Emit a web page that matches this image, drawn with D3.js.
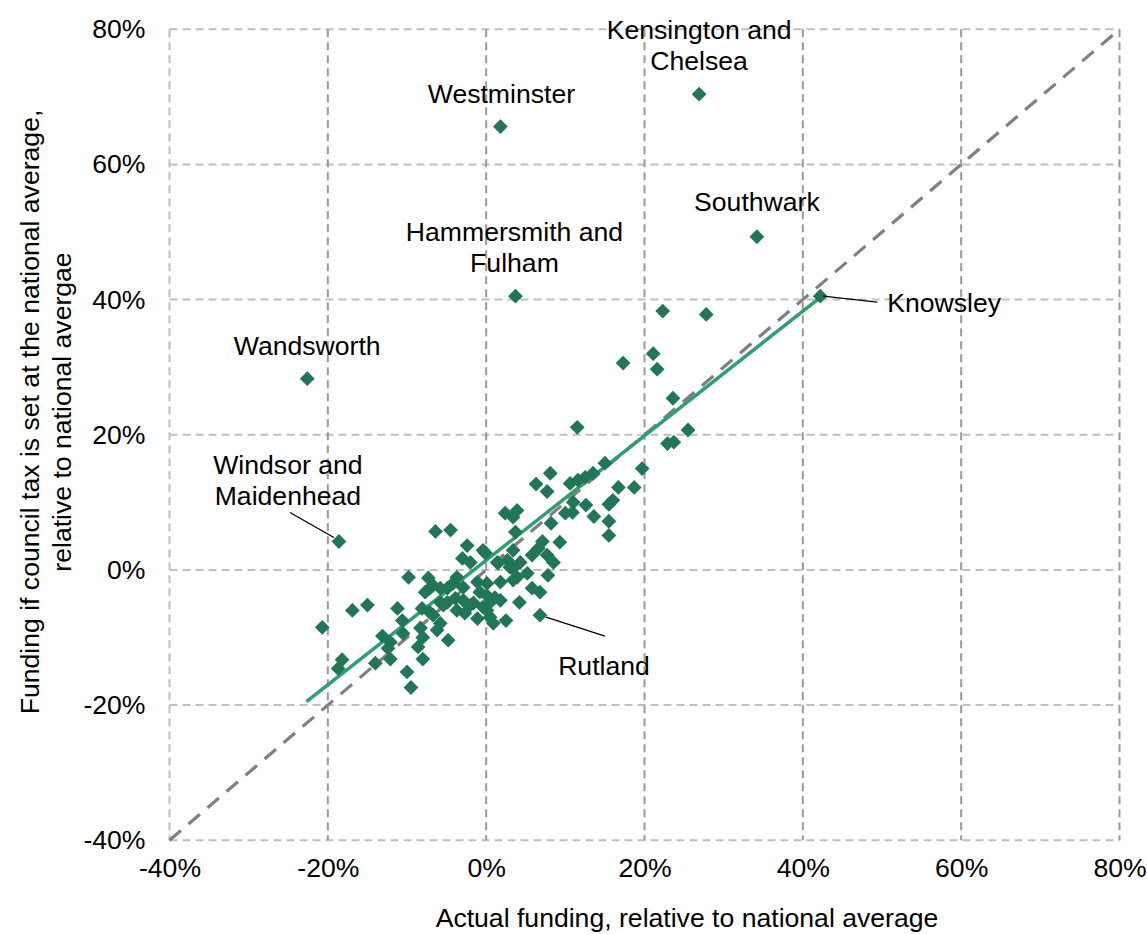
<!DOCTYPE html>
<html><head><meta charset="utf-8">
<script src="https://cdn.jsdelivr.net/npm/d3@7"></script>
<style>
body{margin:0;background:#fff}
svg{display:block}
text{font-family:Arial,"Liberation Sans",sans-serif;fill:#000}
</style>
</head><body><svg id="c" width="1147" height="934"></svg>
<script>
// ---- data (percent, relative to national average) ----
const xTicks = [-40, -20, 0, 20, 40, 60, 80];
const yTicks = [-40, -20, 0, 20, 40, 60, 80];
const xTitle = "Actual funding, relative to national average";
const yTitleLines = ["Funding if council tax is set at the national average,", "relative to national avergae"];

// unnamed authorities: actual funding (x) and funding if CT at national average (y)
const actual = [
 22.3,27.8,17.3,21.1,21.6,11.5,23.6,25.5,22.9,23.7,19.7,15.0,13.5,12.5,11.6,10.6,8.1,6.3,7.7,16.7,
 18.7,16.0,15.5,12.6,11.0,10.0,10.9,13.6,15.5,15.5,8.2,9.3,7.1,6.6,2.4,3.9,3.4,3.7,5.8,7.7,
 8.5,4.3,2.7,3.4,1.5,-0.1,3.4,3.9,3.0,5.2,3.4,7.8,5.8,6.8,4.2,2.5,0.9,0.1,1.1,-0.4,
 0.5,1.8,1.8,-6.4,-4.5,-2.4,-0.4,-3.0,-2.0,1.4,-9.8,-7.3,-7.1,-7.7,-5.8,-4.9,-4.2,-3.7,-2.9,-1.1,
 -0.8,0.1,-3.9,-2.9,-2.0,-5.8,-4.9,-6.7,-10.0,-8.0,-8.6,-8.0,-8.3,-10.5,-10.6,-8.1,-6.7,-5.8,-6.2,-4.8,
 -5.4,-3.7,-2.7,-1.1,0.1,-1.6,0.5,-20.7,-16.9,-15.0,-11.2,-13.1,-12.1,-12.4,-14.0,-12.1,-18.2,-18.7,-9.5,-7.1
];
const ifAverage = [
 38.3,37.8,30.6,32.0,29.7,21.1,25.4,20.7,18.7,18.9,15.0,15.8,14.3,13.7,13.3,12.8,14.3,12.7,11.6,12.2,
 12.2,10.3,9.7,9.6,10.0,8.4,8.5,7.9,7.2,5.1,6.9,4.1,4.2,3.2,8.4,8.8,7.8,5.6,2.2,2.2,
 1.1,1.1,1.4,2.9,1.0,2.5,0.2,-1.1,0.4,-0.5,-1.5,-0.8,-2.7,-3.3,-4.8,-7.5,-7.9,-2.0,-4.1,-5.5,
 -7.0,-4.5,-1.8,5.7,5.9,3.6,2.9,1.7,1.1,1.1,-1.1,-1.2,-2.7,-3.3,-2.7,-2.7,-2.0,-1.1,-2.6,-1.8,
 -3.3,-3.8,-4.2,-4.5,-5.2,-4.8,-4.8,-2.3,-15.1,-13.2,-11.4,-10.0,-8.6,-9.4,-7.5,-5.7,-6.7,-7.9,-8.9,-10.4,
 -5.2,-6.0,-6.4,-7.2,-6.0,-4.9,-4.8,-8.5,-6.0,-5.2,-5.7,-9.8,-10.7,-11.6,-13.8,-13.2,-13.3,-14.6,-17.4,-6.3
];

// labelled authorities
const namedAuthorities = ["Kensington and Chelsea","Westminster","Southwark","Hammersmith and Fulham","Knowsley","Wandsworth","Windsor and Maidenhead","Rutland"];
const namedActual    = [26.9, 1.8, 34.2, 3.7, 42.2, -22.6, -18.6, 6.8];
const namedIfAverage = [70.4, 65.6, 49.3, 40.5, 40.5, 28.3, 4.2, -6.7];

// fitted trend line end points and the 45-degree parity line
const trendActual = [-22.7, 42.3];
const trendIfAverage = [-19.5, 40.4];
const parityLine = [-40, 80];

// ---- layout ----
const W = 1147, H = 934;
const plot = {left: 169.5, right: 1119.5, top: 29.3, bottom: 840.2};
const FS = 26.6;
const labelLayout = {
  "Kensington and Chelsea": {lines:["Kensington and","Chelsea"], anchor:"middle", dx:0, dy:-55},
  "Westminster": {lines:["Westminster"], anchor:"middle", dx:1, dy:-24},
  "Southwark": {lines:["Southwark"], anchor:"middle", dx:0, dy:-26},
  "Hammersmith and Fulham": {lines:["Hammersmith and","Fulham"], anchor:"middle", dx:-1, dy:-55},
  "Knowsley": {lines:["Knowsley"], anchor:"start", dx:67, dy:16, leader:[3,0,57,6]},
  "Wandsworth": {lines:["Wandsworth"], anchor:"middle", dx:0, dy:-24},
  "Windsor and Maidenhead": {lines:["Windsor and","Maidenhead"], anchor:"middle", dx:-51, dy:-68, leader:[-49,-29,-5,-4]},
  "Rutland": {lines:["Rutland"], anchor:"middle", dx:64, dy:60, leader:[6,2,65,21]}
};

const svg = d3.select("#c");
svg.append("rect").attr("width", W).attr("height", H).attr("fill", "#fff");

const x = d3.scaleLinear().domain([-40, 80]).range([plot.left, plot.right]);
const y = d3.scaleLinear().domain([-40, 80]).range([plot.bottom, plot.top]);

// grid
const grid = svg.append("g");
grid.selectAll("line.h").data(yTicks).join("line")
  .attr("x1", plot.left).attr("x2", plot.right)
  .attr("y1", d => y(d)).attr("y2", d => y(d))
  .attr("stroke", "#bfbfbf").attr("stroke-width", 2).attr("stroke-dasharray", "8,5");
grid.selectAll("line.v").data(xTicks).join("line")
  .attr("y1", plot.top).attr("y2", plot.bottom)
  .attr("x1", d => x(d)).attr("x2", d => x(d))
  .attr("stroke", d => d === -40 ? "#bfbfbf" : "#9a9a9a").attr("stroke-width", 2).attr("stroke-dasharray", "8,5");

// parity line
svg.append("line")
  .attr("x1", x(parityLine[0])).attr("y1", y(parityLine[0]))
  .attr("x2", x(parityLine[1])).attr("y2", y(parityLine[1]))
  .attr("stroke", "#808080").attr("stroke-width", 3.2).attr("stroke-dasharray", "15,10");

// trend line
svg.append("line")
  .attr("x1", x(trendActual[0])).attr("y1", y(trendIfAverage[0]))
  .attr("x2", x(trendActual[1])).attr("y2", y(trendIfAverage[1]))
  .attr("stroke", "#2ea06e").attr("stroke-width", 3.5);

// points
const diamond = "M0,-7.4L7.4,0L0,7.4L-7.4,0Z";
const pts = actual.map((v, i) => ({x: v, y: ifAverage[i]}))
  .concat(namedAuthorities.map((n, i) => ({x: namedActual[i], y: namedIfAverage[i], name: n})));
svg.append("g").selectAll("path").data(pts).join("path")
  .attr("d", diamond)
  .attr("transform", d => `translate(${x(d.x)},${y(d.y)})`)
  .attr("fill", "#217656");

// labels
const lab = svg.append("g");
namedAuthorities.forEach((n, i) => {
  const L = labelLayout[n];
  const px = x(namedActual[i]), py = y(namedIfAverage[i]);
  if (L.leader) {
    lab.append("line")
      .attr("x1", px + L.leader[0]).attr("y1", py + L.leader[1])
      .attr("x2", px + L.leader[2]).attr("y2", py + L.leader[3])
      .attr("stroke", "#000").attr("stroke-width", 1.3);
  }
  L.lines.forEach((t, j) => {
    lab.append("text").attr("x", px + L.dx).attr("y", py + L.dy + j * 31)
      .attr("text-anchor", L.anchor).attr("font-size", FS).text(t);
  });
});

// axes
const fmt = d => d + "%";
const xa = svg.append("g").attr("transform", `translate(0,${plot.bottom})`)
  .call(d3.axisBottom(x).tickValues(xTicks).tickFormat(fmt).tickSize(0).tickPadding(18));
const ya = svg.append("g").attr("transform", `translate(${plot.left},0)`)
  .call(d3.axisLeft(y).tickValues(yTicks).tickFormat(fmt).tickSize(0).tickPadding(24));
[xa, ya].forEach(a => {
  a.select(".domain").remove();
  a.selectAll("text").attr("font-size", FS).attr("font-family", "Arial, 'Liberation Sans', sans-serif").attr("fill", "#000");
});

// axis titles
svg.append("text").attr("x", 687).attr("y", 927).attr("text-anchor", "middle")
  .attr("font-size", FS).text(xTitle);
const yt = svg.append("text").attr("transform", "translate(0,412) rotate(-90)").attr("text-anchor", "middle").attr("font-size", FS);
yTitleLines.forEach((t, j) => {
  yt.append("tspan").attr("x", 0).attr("y", 39 + j * 32).text(t);
});
</script>
</body></html>
